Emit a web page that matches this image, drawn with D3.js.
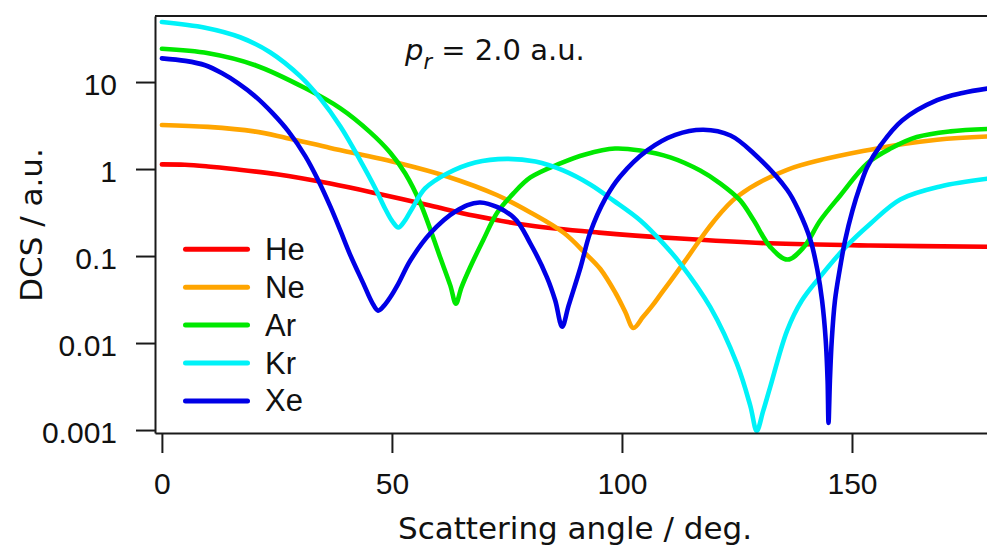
<!DOCTYPE html>
<html>
<head>
<meta charset="utf-8">
<script src="https://cdn.jsdelivr.net/npm/d3@7"></script>
<style>
  html, body { margin: 0; padding: 0; background: #fff; }
  #container { width: 987px; height: 550px; }
</style>
</head>
<body>
<div id="container"></div>
<script>
// series labels, colours and axis ticks
const elements = ['He', 'Ne', 'Ar', 'Kr', 'Xe'];
const colors = ['#ff0000', '#ffa500', '#00e800', '#00f2f8', '#0000e6'];
const xTicks = [0, 50, 100, 150];
const yTicks = [0.001, 0.01, 0.1, 1, 10];

// DCS (a.u.) vs scattering angle (deg)
const heAngle = [0, 5, 10, 15.5, 25, 36.6, 47, 58.3, 68, 80, 95, 112.6, 132, 154, 180];
const heDCS = [1.13, 1.12, 1.07, 1.0, 0.87, 0.68, 0.52, 0.38, 0.29, 0.224, 0.186, 0.159, 0.14, 0.132, 0.128];

const neAngle = [0, 10, 20, 27, 36.6, 51.8, 62, 72.8, 80.1, 87.4, 92, 95.3, 98.6, 100.7, 102.5, 104.6, 106.6, 108.4, 110.5, 114.2, 119.8, 125.1, 135.9, 154, 168.5, 180];
const neDCS = [3.21, 3.05, 2.71, 2.28, 1.75, 1.16, 0.822, 0.503, 0.317, 0.184, 0.108, 0.071, 0.0376, 0.0229, 0.0149, 0.020, 0.0269, 0.0363, 0.0513, 0.0955, 0.245, 0.484, 0.98, 1.67, 2.17, 2.37];

const arAngle = [0, 10.1, 20.3, 31.2, 38.8, 45.3, 49.6, 52.9, 56.2, 60.5, 62.7, 63.9, 65.1, 67, 69.8, 72.9, 76.4, 80.1, 86.6, 92, 98.5, 104, 110.5, 117, 121.4, 125.7, 128.6, 132.3, 136, 139.5, 143.1, 147.5, 153.3, 158.4, 164.1, 171.4, 180];
const arDCS = [24.1, 21.4, 15.6, 8.47, 4.98, 2.64, 1.55, 0.889, 0.402, 0.096, 0.0457, 0.0284, 0.0434, 0.0743, 0.151, 0.317, 0.524, 0.80, 1.16, 1.47, 1.72, 1.63, 1.36, 0.96, 0.68, 0.436, 0.259, 0.126, 0.0912, 0.126, 0.256, 0.50, 1.16, 1.72, 2.33, 2.71, 2.89];

const krAngle = [0, 9.4, 17, 23.5, 30.1, 34.4, 38.8, 43.1, 46.4, 48.5, 50.1, 51.4, 52.7, 54.4, 57.2, 62, 68.1, 75, 81.2, 87.2, 93.1, 98.1, 104, 109, 112.7, 119.2, 125, 127.9, 129.3, 130.7, 132.2, 135.9, 139.1, 143.1, 148.5, 154, 160.5, 169.2, 180];
const krDCS = [49, 42.1, 32.7, 22.0, 11.6, 6.49, 3.09, 1.26, 0.598, 0.352, 0.25, 0.213, 0.25, 0.352, 0.598, 0.889, 1.19, 1.31, 1.22, 0.964, 0.665, 0.436, 0.256, 0.139, 0.082, 0.0258, 0.00575, 0.0019, 0.00098, 0.00166, 0.00309, 0.0139, 0.0308, 0.058, 0.125, 0.235, 0.447, 0.631, 0.78];

const xeAngle = [0, 5.1, 9.4, 13.1, 16.6, 20.3, 24.0, 27.5, 31.2, 34.0, 36.6, 38.8, 40.9, 43.8, 45.7, 47.0, 48.3, 49.6, 51.4, 54.0, 58.3, 63.8, 69.2, 76.4, 80.1, 83.7, 85.5, 87.0, 88.4, 91.0, 93.1, 96.4, 99.6, 105.5, 111.6, 117.7, 123.6, 128.6, 135.9, 138.4, 141.0, 142.5, 143.5, 144.3, 144.7, 144.9, 145.2, 145.6, 146.3, 147.3, 148.5, 150.1, 151.8, 153.3, 156.2, 160.9, 168.5, 174, 180];
const xeDCS = [18.7, 17.5, 15.6, 12.6, 9.66, 6.84, 4.42, 2.71, 1.40, 0.739, 0.372, 0.196, 0.104, 0.0482, 0.0292, 0.0236, 0.0269, 0.0333, 0.0482, 0.0887, 0.1815, 0.325, 0.413, 0.28, 0.139, 0.057, 0.0308, 0.0154, 0.0269, 0.0743, 0.186, 0.459, 0.822, 1.64, 2.47, 2.83, 2.43, 1.52, 0.578, 0.333, 0.151, 0.068, 0.0308, 0.01067, 0.00369, 0.00121, 0.00369, 0.01067, 0.0308, 0.068, 0.151, 0.333, 0.645, 1.05, 1.87, 3.62, 6.2, 7.5, 8.5];

const angleData = [heAngle, neAngle, arAngle, krAngle, xeAngle];
const dcsData = [heDCS, neDCS, arDCS, krDCS, xeDCS];

const width = 987, height = 550;
const plot = { left: 155, right: 990, top: 16, bottom: 433 };

let viz = d3.select('#container')
    .append('svg')
    .attr('width', width)
    .attr('height', height)
    .style('background', '#fff');

let x = d3.scaleLinear()
    .domain([-1.5, 180])
    .range([plot.left, plot.right]);

let y = d3.scaleLog()
    .domain([Math.pow(10, -3.034), Math.pow(10, 1.759)])
    .range([plot.bottom, plot.top]);

viz.append('defs').append('clipPath')
    .attr('id', 'plotClip')
    .append('rect')
    .attr('x', plot.left)
    .attr('y', plot.top)
    .attr('width', plot.right - plot.left)
    .attr('height', plot.bottom - plot.top);

// curves
let line = d3.line()
    .x(d => x(d[0]))
    .y(d => y(d[1]))
    .curve(d3.curveCatmullRom.alpha(0.5));

let series = elements.map((name, i) => ({
    name: name,
    color: colors[i],
    points: angleData[i].map((a, j) => [a, dcsData[i][j]])
}));

viz.append('g')
    .attr('clip-path', 'url(#plotClip)')
    .selectAll('path')
    .data(series)
    .enter()
    .append('path')
    .attr('d', d => line(d.points))
    .attr('fill', 'none')
    .attr('stroke', d => d.color)
    .attr('stroke-width', 4.6)
    .attr('stroke-linejoin', 'round')
    .attr('stroke-linecap', 'round');

// axes
let yAxis = viz.append('g')
    .attr('transform', `translate(${plot.left},0)`)
    .call(d3.axisLeft(y).tickValues(yTicks).tickFormat(d => String(d))
        .tickSize(19).tickSizeOuter(0).tickPadding(19));

let xAxis = viz.append('g')
    .attr('transform', `translate(0,${plot.bottom})`)
    .call(d3.axisBottom(x).tickValues(xTicks).tickFormat(d => String(d))
        .tickSize(20).tickSizeOuter(0).tickPadding(20));

[xAxis, yAxis].forEach(ax => {
    ax.selectAll('path, line').attr('stroke', '#1a1a1a').attr('stroke-width', 2);
    ax.selectAll('text')
        .attr('fill', '#111')
        .style('font-family', '"Liberation Sans", Arial, sans-serif')
        .style('font-size', '30px');
});
yAxis.selectAll('text').attr('dy', '0.4em');

// top edge of the frame
viz.append('line')
    .attr('x1', plot.left).attr('x2', plot.right)
    .attr('y1', plot.top).attr('y2', plot.top)
    .attr('stroke', '#1a1a1a')
    .attr('stroke-width', 2);

// axis titles
viz.append('text')
    .text('Scattering angle / deg.')
    .attr('x', 575)
    .attr('y', 539)
    .attr('text-anchor', 'middle')
    .attr('fill', '#111')
    .style('font-family', '"DejaVu Sans", sans-serif')
    .style('font-size', '31px');

viz.append('text')
    .text('DCS / a.u.')
    .attr('transform', 'translate(42,225) rotate(-90)')
    .attr('text-anchor', 'middle')
    .attr('fill', '#111')
    .style('font-family', '"DejaVu Sans", sans-serif')
    .style('font-size', '31px');

// p_r annotation
let note = viz.append('text')
    .attr('x', 405)
    .attr('y', 60)
    .attr('fill', '#111')
    .style('font-family', '"DejaVu Sans", sans-serif')
    .style('font-size', '29px');
note.append('tspan').text('p').style('font-style', 'italic');
note.append('tspan').text('r').style('font-style', 'italic')
    .style('font-size', '21px').attr('dy', 9);
note.append('tspan').text(' = 2.0 a.u.').attr('dy', -9);

// legend
let legend = viz.append('g')
    .attr('class', 'legend')
    .selectAll('g')
    .data(series)
    .enter()
    .append('g')
    .attr('transform', (d, i) => `translate(0,${249.3 + i * 37.9})`);

legend.append('line')
    .attr('x1', 185.5).attr('x2', 247.5)
    .attr('y1', 0).attr('y2', 0)
    .attr('stroke', d => d.color)
    .attr('stroke-width', 5)
    .attr('stroke-linecap', 'round');

legend.append('text')
    .text(d => d.name)
    .attr('x', 265)
    .attr('y', 10.5)
    .attr('fill', '#111')
    .style('font-family', '"Liberation Sans", Arial, sans-serif')
    .style('font-size', '31px');
</script>
</body>
</html>
